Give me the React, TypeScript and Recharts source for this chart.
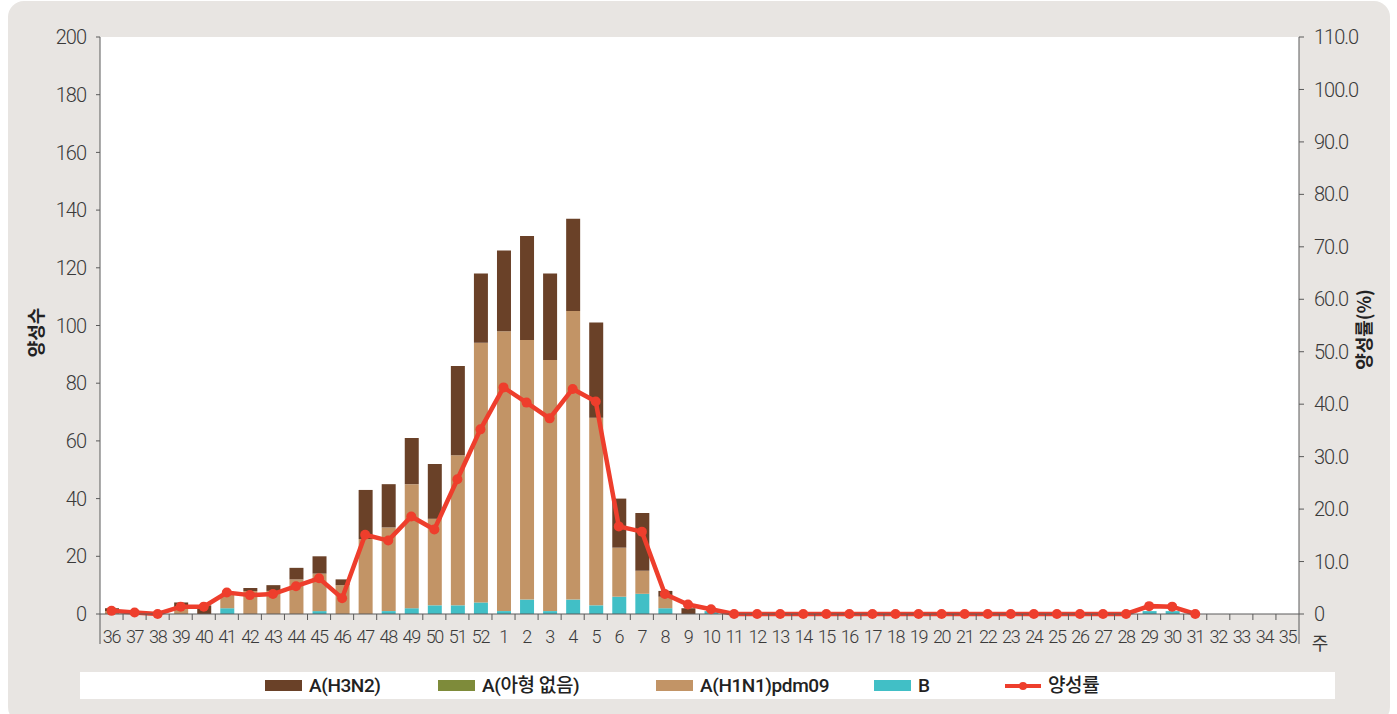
import React from "react";
import {ComposedChart, Bar, Line, XAxis, YAxis, CartesianGrid} from "recharts";

// 주차 (36주 ~ 다음해 35주)
const weeks = [
    "36", "37", "38", "39", "40", "41", "42", "43", "44", "45", "46", "47", "48", "49", "50", "51", "52",
    "1", "2", "3", "4", "5", "6", "7", "8", "9", "10", "11", "12", "13", "14", "15", "16", "17", "18",
    "19", "20", "21", "22", "23", "24", "25", "26", "27", "28", "29", "30", "31", "32", "33", "34", "35",
];

const h3n2 = [
    1, 0, 0, 2, 3, 0, 1, 2, 4, 6, 2, 17, 15, 16, 19, 31, 24,
    28, 36, 30, 32, 33, 17, 20, 2, 2, 0, 0, 0, 0, 0, 0, 0, 0, 0,
    0, 0, 0, 0, 0, 0, 0, 0, 0, 0, 0, 0, 0, 0, 0, 0, 0,
];

const untyped = [
    0, 0, 0, 0, 0, 0, 0, 0, 0, 0, 0, 0, 0, 0, 0, 0, 0,
    0, 0, 0, 0, 0, 0, 0, 0, 0, 0, 0, 0, 0, 0, 0, 0, 0, 0,
    0, 0, 0, 0, 0, 0, 0, 0, 0, 0, 0, 0, 0, 0, 0, 0, 0,
];

const h1n1 = [
    1, 0, 0, 2, 0, 5, 8, 8, 12, 13, 10, 26, 29, 43, 30, 52, 90,
    97, 90, 87, 100, 65, 17, 8, 4, 0, 0, 0, 0, 0, 0, 0, 0, 0, 0,
    0, 0, 0, 0, 0, 0, 0, 0, 0, 0, 0, 0, 0, 0, 0, 0, 0,
];

const typeB = [
    0, 0, 0, 0, 0, 2, 0, 0, 0, 1, 0, 0, 1, 2, 3, 3, 4,
    1, 5, 1, 5, 3, 6, 7, 2, 0, 1, 0, 0, 0, 0, 0, 0, 0, 0,
    0, 0, 0, 0, 0, 0, 0, 0, 0, 0, 1, 1, 0, 0, 0, 0, 0,
];

const rate = [
    0.6, 0.3, 0, 1.4, 1.4, 4.1, 3.6, 3.8, 5.3, 6.8, 3.0, 15.1, 14.0, 18.6, 16.1, 25.7, 35.2,
    43.2, 40.3, 37.3, 42.9, 40.5, 16.7, 15.7, 3.8, 1.8, 0.9, 0, 0, 0, 0, 0, 0, 0, 0,
    0, 0, 0, 0, 0, 0, 0, 0, 0, 0, 1.5, 1.4, 0, null, null, null, null,
];

const leftTicks = [0, 20, 40, 60, 80, 100, 120, 140, 160, 180, 200];
const rightTicks = [0, 10, 20, 30, 40, 50, 60, 70, 80, 90, 100, 110];

const COLORS = {
    h3n2: "#6a4128",
    untyped: "#7e8b3a",
    h1n1: "#c29466",
    b: "#41bfc6",
    rate: "#ee3e2c",
};

const legendItems = [
    {name: "A(H3N2)", color: COLORS.h3n2, kind: "box"},
    {name: "A(아형 없음)", color: COLORS.untyped, kind: "box"},
    {name: "A(H1N1)pdm09", color: COLORS.h1n1, kind: "box"},
    {name: "B", color: COLORS.b, kind: "box"},
    {name: "양성률", color: COLORS.rate, kind: "line"},
];
const LEGEND_X = [265, 438, 656, 874, 1005];

const data = weeks.map((w, i) => ({
    week: w,
    h3n2: h3n2[i],
    untyped: untyped[i],
    h1n1: h1n1[i],
    b: typeB[i],
    rate: rate[i],
}));

const W = 1397;
const H = 714;
const PLOT_LEFT = 100;
const PLOT_RIGHT = 1299;
const BAND = (PLOT_RIGHT - PLOT_LEFT) / weeks.length;

const NUM_FONT = 'Roboto, "Noto Sans CJK KR", sans-serif';
const KR_FONT = '"Noto Sans CJK KR", sans-serif';
const AXIS_GRAY = "#5a5a5a";
const TEXT = "#3a3a3a";

const WeekTick = (props: any) => {
    const {x, y, payload} = props;
    const idx = payload.index ?? weeks.indexOf(payload.value);
    const left = x - BAND / 2;
    const right = x + BAND / 2;
    const last = idx === weeks.length - 1;
    return (
        <g>
            <line x1={left} y1={y} x2={left} y2={idx === 0 ? y + 30 : y + 6} stroke={AXIS_GRAY} strokeWidth={1}/>
            {last && <line x1={right} y1={y} x2={right} y2={y + 30} stroke={AXIS_GRAY} strokeWidth={1}/>}
            <text x={x} y={y + 29} textAnchor="middle" fill={TEXT} fontSize={18} fontWeight={300}
                  letterSpacing={-1.3} fontFamily={NUM_FONT}>
                {payload.value}
            </text>
        </g>
    );
};

const LeftLabel = (props: any) => {
    const {x, y, height} = props.viewBox;
    const cx = x + 35;
    const cy = y + height / 2 + 7;
    return (
        <text x={cx} y={cy} transform={`rotate(-90 ${cx} ${cy})`} textAnchor="middle" dominantBaseline="central"
              fontFamily={KR_FONT} fontWeight={700} fontSize={18} fill="#222">
            양성수
        </text>
    );
};

const RightLabel = (props: any) => {
    const {x, y, height} = props.viewBox;
    const cx = x + 64;
    const cy = y + height / 2 + 4;
    return (
        <text x={cx} y={cy} transform={`rotate(-90 ${cx} ${cy})`} textAnchor="middle" dominantBaseline="central"
              fontFamily={KR_FONT} fontWeight={700} fontSize={18} fill="#222">
            양성률(%)
        </text>
    );
};

const WeekLabel = (props: any) => {
    const {x, y, width} = props.viewBox;
    return (
        <text x={x + width + 21} y={y + 36} textAnchor="middle" fontFamily={KR_FONT} fontSize={18} fill={TEXT}>
            주
        </text>
    );
};

const App = () => {
    return (
        <div style={{position: "absolute", left: 0, top: 0, width: W, height: H, overflow: "hidden"}}>
            <div style={{
                position: "absolute", left: 8, top: 1, width: 1382, height: 722,
                background: "#e8e5e2", borderRadius: 16,
            }}/>
            <div style={{position: "absolute", left: 80, top: 672, width: 1255, height: 27, background: "#fff"}}>
                {legendItems.map((item, i) => (
                    <div key={item.name} style={{
                        position: "absolute", left: LEGEND_X[i] - 80, top: 0, height: 27,
                        display: "flex", alignItems: "center",
                    }}>
                        {item.kind === "box" ? (
                            <div style={{width: 37, height: 11, background: item.color}}/>
                        ) : (
                            <svg width={36} height={12}>
                                <line x1={0} y1={6} x2={36} y2={6} stroke={item.color} strokeWidth={4}/>
                                <circle cx={18} cy={6} r={4} fill={item.color}/>
                            </svg>
                        )}
                        <span style={{
                            marginLeft: 7, fontFamily: NUM_FONT, fontSize: 19, color: "#222",
                            fontWeight: 500, letterSpacing: -0.4, lineHeight: "27px",
                        }}>
                            {item.name}
                        </span>
                    </div>
                ))}
            </div>
            <div style={{position: "absolute", left: 0, top: 0}}>
                <ComposedChart width={W} height={H} data={data}
                               margin={{top: 37, right: 0, bottom: 70, left: 0}}
                               barSize={14}>
                    <CartesianGrid horizontal={false} vertical={false} fill="#ffffff" stroke="none"/>
                    <XAxis dataKey="week" height={30} interval={0} tickLine={false} tickSize={0} tickMargin={0}
                           axisLine={{stroke: AXIS_GRAY}} tick={<WeekTick/>} label={<WeekLabel/>}/>
                    <YAxis yAxisId="left" width={PLOT_LEFT} domain={[0, 200]} ticks={leftTicks} interval={0}
                           tickSize={4} tickMargin={10} axisLine={{stroke: AXIS_GRAY}} tickLine={{stroke: AXIS_GRAY}}
                           tick={{fill: TEXT, fontSize: 20, fontWeight: 300, fontFamily: NUM_FONT, letterSpacing: -1}}
                           label={<LeftLabel/>}/>
                    <YAxis yAxisId="right" orientation="right" width={W - PLOT_RIGHT} domain={[0, 110]}
                           ticks={rightTicks} interval={0} tickSize={5} tickMargin={10}
                           axisLine={{stroke: AXIS_GRAY}} tickLine={{stroke: AXIS_GRAY}}
                           tickFormatter={(v: number) => (v === 0 ? "0" : v.toFixed(1))}
                           tick={{fill: TEXT, fontSize: 20, fontWeight: 300, fontFamily: NUM_FONT, letterSpacing: -1, textAnchor: "start"}}
                           label={<RightLabel/>}/>
                    <Bar yAxisId="left" dataKey="b" stackId="s" fill={COLORS.b} isAnimationActive={false}/>
                    <Bar yAxisId="left" dataKey="untyped" stackId="s" fill={COLORS.untyped} isAnimationActive={false}/>
                    <Bar yAxisId="left" dataKey="h1n1" stackId="s" fill={COLORS.h1n1} isAnimationActive={false}/>
                    <Bar yAxisId="left" dataKey="h3n2" stackId="s" fill={COLORS.h3n2} isAnimationActive={false}/>
                    <Line yAxisId="right" dataKey="rate" stroke={COLORS.rate} strokeWidth={4.5}
                          dot={{r: 5, fill: COLORS.rate, stroke: COLORS.rate, strokeWidth: 0}}
                          activeDot={false} connectNulls={false} isAnimationActive={false}/>
                </ComposedChart>
            </div>
        </div>
    );
};

export default App;
